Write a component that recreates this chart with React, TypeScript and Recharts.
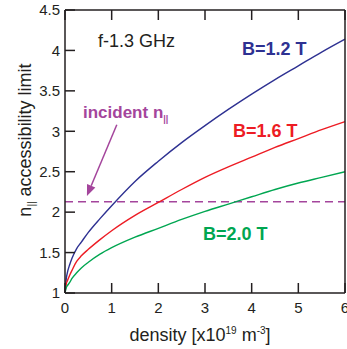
import { LineChart, Line, XAxis, YAxis, ReferenceLine } from "recharts";

const density = [0, 0.03, 0.05, 0.1, 0.15, 0.25, 0.35, 0.5, 0.75, 1, 1.5, 2, 2.5, 3, 3.5, 4, 4.5, 5, 5.5, 6];
const b12 = [1, 1.19, 1.25, 1.35, 1.43, 1.55, 1.63, 1.75, 1.92, 2.08, 2.38, 2.63, 2.86, 3.07, 3.27, 3.46, 3.64, 3.81, 3.98, 4.14];
const b16 = [1, 1.12, 1.15, 1.22, 1.28, 1.39, 1.46, 1.54, 1.66, 1.77, 1.96, 2.12, 2.28, 2.43, 2.56, 2.68, 2.8, 2.91, 3.02, 3.12];
const b20 = [1, 1.07, 1.09, 1.13, 1.18, 1.25, 1.31, 1.38, 1.48, 1.56, 1.69, 1.8, 1.91, 2.01, 2.1, 2.19, 2.28, 2.36, 2.43, 2.5];

const xTicks = [0, 1, 2, 3, 4, 5, 6];
const yTicks = [1, 1.5, 2, 2.5, 3, 3.5, 4, 4.5];
const incidentN = 2.13;
const arrowSegment = [
  { x: 1.11, y: 3.08 },
  { x: 0.47, y: 2.2 },
];

const BLUE = "#2e3192";
const RED = "#ed1c24";
const GREEN = "#00a651";
const PURPLE = "#a4459c";
const INK = "#231f20";
const FONT = "'Liberation Sans', Arial, sans-serif";
const TICK = 10;

const data = density.map((x, i) => ({ x, b12: b12[i], b16: b16[i], b20: b20[i] }));

const frame = { stroke: INK, strokeWidth: 1.5 };

// ticks point into the plot on all four sides
function BottomTick(props: any) {
  const { x, y, payload } = props;
  return (
    <g>
      <line x1={x} x2={x} y1={y} y2={y - TICK} stroke={INK} strokeWidth={1.5} />
      <text x={x} y={y + 9} dy="0.71em" textAnchor="middle" fontSize={15} fill={INK} fontFamily={FONT}>
        {payload.value}
      </text>
    </g>
  );
}

function TopTick(props: any) {
  const { x, y } = props;
  return <line x1={x} x2={x} y1={y} y2={y + TICK} stroke={INK} strokeWidth={1.5} />;
}

function LeftTick(props: any) {
  const { x, y, payload } = props;
  return (
    <g>
      <line x1={x} x2={x + TICK} y1={y} y2={y} stroke={INK} strokeWidth={1.5} />
      <text x={x - 5} y={y} dy="0.355em" textAnchor="end" fontSize={15} fill={INK} fontFamily={FONT}>
        {payload.value}
      </text>
    </g>
  );
}

function RightTick(props: any) {
  const { x, y } = props;
  return <line x1={x} x2={x - TICK} y1={y} y2={y} stroke={INK} strokeWidth={1.5} />;
}

function Arrow(props: any) {
  const { x1, y1, x2, y2 } = props;
  const ang = Math.atan2(y2 - y1, x2 - x1);
  const len = 11;
  const half = 4.5;
  const bx = x2 - len * Math.cos(ang);
  const by = y2 - len * Math.sin(ang);
  const px = -Math.sin(ang) * half;
  const py = Math.cos(ang) * half;
  return (
    <g>
      <line x1={x1} y1={y1} x2={bx} y2={by} stroke={PURPLE} strokeWidth={1.5} />
      <polygon points={`${x2},${y2} ${bx + px},${by + py} ${bx - px},${by - py}`} fill={PURPLE} />
    </g>
  );
}

export default function App() {
  return (
    <div style={{ width: 347, height: 349, fontFamily: FONT }}>
      <style>{"body{margin:0}"}</style>
      <LineChart width={347} height={349} data={data} margin={{ top: 9, right: 1, bottom: 0, left: 8 }}>
        <XAxis
          xAxisId="b"
          dataKey="x"
          type="number"
          domain={[0, 6]}
          ticks={xTicks}
          interval={0}
          height={56}
          tickSize={0}
          tickMargin={0}
          axisLine={frame}
          tickLine={false}
          tick={BottomTick}
        />
        <XAxis
          xAxisId="t"
          orientation="top"
          dataKey="x"
          type="number"
          domain={[0, 6]}
          ticks={xTicks}
          interval={0}
          height={1}
          tickSize={0}
          tickMargin={0}
          axisLine={frame}
          tickLine={false}
          tick={TopTick}
        />
        <YAxis
          yAxisId="l"
          type="number"
          domain={[1, 4.5]}
          ticks={yTicks}
          interval={0}
          width={57}
          tickSize={0}
          tickMargin={0}
          axisLine={frame}
          tickLine={false}
          tick={LeftTick}
        />
        <YAxis
          yAxisId="r"
          orientation="right"
          type="number"
          domain={[1, 4.5]}
          ticks={yTicks}
          interval={0}
          width={1}
          tickSize={0}
          tickMargin={0}
          axisLine={frame}
          tickLine={false}
          tick={RightTick}
        />
        <ReferenceLine
          xAxisId="b"
          yAxisId="l"
          y={incidentN}
          stroke={PURPLE}
          strokeWidth={1.5}
          strokeDasharray="8 5"
        />
        <ReferenceLine xAxisId="b" yAxisId="l" segment={arrowSegment} shape={Arrow} />
        <Line xAxisId="b" yAxisId="l" type="monotone" dataKey="b12" stroke={BLUE} strokeWidth={1.4} dot={false} isAnimationActive={false} />
        <Line xAxisId="b" yAxisId="l" type="monotone" dataKey="b16" stroke={RED} strokeWidth={1.4} dot={false} isAnimationActive={false} />
        <Line xAxisId="b" yAxisId="l" type="monotone" dataKey="b20" stroke={GREEN} strokeWidth={1.4} dot={false} isAnimationActive={false} />

        <text x={98} y={47} fontSize={18} fill={INK} fontFamily={FONT}>f-1.3 GHz</text>
        <text x={242} y={55} fontSize={18} fontWeight="bold" fill={BLUE} fontFamily={FONT}>B=1.2 T</text>
        <text x={233} y={137} fontSize={18} fontWeight="bold" fill={RED} fontFamily={FONT}>B=1.6 T</text>
        <text x={203} y={240} fontSize={18} fontWeight="bold" fill={GREEN} fontFamily={FONT}>B=2.0 T</text>
        <text x={83} y={118} fontSize={17} fontWeight="bold" fill={PURPLE} fontFamily={FONT}>
          incident n<tspan fontSize={9} dy={4}>||</tspan>
        </text>
        <text
          x={31}
          y={140}
          fontSize={18}
          fill={INK}
          fontFamily={FONT}
          textAnchor="middle"
          transform="rotate(-90, 31, 140)"
        >
          n<tspan fontSize={10} dy={4}>||</tspan>
          <tspan dy={-4}> accessibility limit</tspan>
        </text>
        <text x={200} y={341} fontSize={18} fill={INK} fontFamily={FONT} textAnchor="middle">
          density [x10<tspan fontSize={10} dy={-7}>19</tspan>
          <tspan dy={7}> m</tspan>
          <tspan fontSize={10} dy={-7}>-3</tspan>
          <tspan dy={7}>]</tspan>
        </text>
      </LineChart>
    </div>
  );
}
